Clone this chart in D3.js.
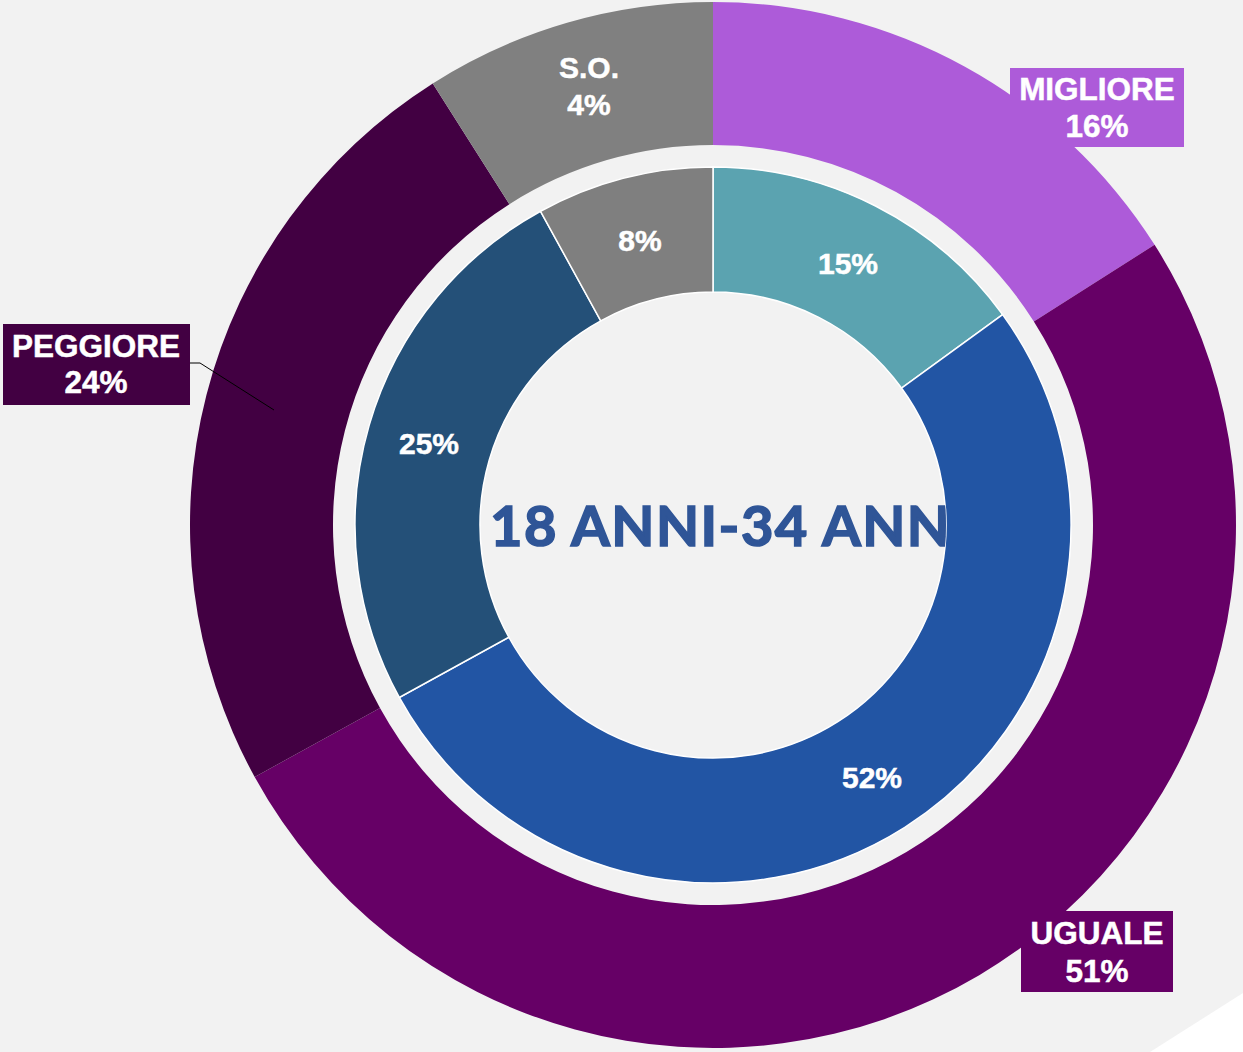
<!DOCTYPE html>
<html><head><meta charset="utf-8">
<script src="https://cdn.jsdelivr.net/npm/d3@7"></script>
<style>html,body{margin:0;padding:0;background:#F2F2F2;overflow:hidden}</style>
</head><body>
<svg id="chart" width="1243" height="1052"></svg>
<script>
// Outer ring (answers)
const outerCategories = ["MIGLIORE", "UGUALE", "PEGGIORE", "S.O."];
const outerValues = [16, 51, 24, 9];          // slice sizes
const outerLabels = ["16%", "51%", "24%", "4%"]; // printed labels
const outerColors = ["#AD5BD9", "#660066", "#420042", "#808080"];
// Inner ring (18-34 years)
const innerValues = [15, 52, 25, 8];
const innerLabels = ["15%", "52%", "25%", "8%"];
const innerColors = ["#5BA3B0", "#2255A4", "#245078", "#7F7F7F"];
const centerTitle = "18 ANNI-34 ANNI";

const svg = d3.select("#chart");
svg.append("rect").attr("width",1243).attr("height",1052).attr("fill","#F2F2F2");
svg.append("polygon").attr("points","1150,1052 1243,993 1243,1052").attr("fill","#FFFFFF");

const cx = 713, cy = 525;
const g = svg.append("g").attr("transform",`translate(${cx},${cy})`);
const pie = d3.pie().sort(null).value(d=>d);

const outerArc = d3.arc().innerRadius(380).outerRadius(523);
const innerArc = d3.arc().innerRadius(233).outerRadius(358);

g.selectAll("path.outer").data(pie(outerValues)).join("path")
  .attr("class","outer").attr("d",outerArc)
  .attr("fill",(d,i)=>outerColors[i]);

g.selectAll("path.inner").data(pie(innerValues)).join("path")
  .attr("class","inner").attr("d",innerArc)
  .attr("fill",(d,i)=>innerColors[i])
  .attr("stroke","#FFFFFF").attr("stroke-width",1.5);

// center title clipped to hole
svg.append("clipPath").attr("id","hole").append("circle").attr("cx",cx).attr("cy",cy).attr("r",233);
svg.append("text").attr("clip-path","url(#hole)")
  .attr("x",490).attr("y",546)
  .attr("font-family","Lato, 'Open Sans', sans-serif").attr("font-weight","bold")
  .attr("font-size",56).attr("fill","#2F5597")
  .attr("stroke","#2F5597").attr("stroke-width",1.6)
  .attr("textLength",478).attr("lengthAdjust","spacing")
  .text(centerTitle);

// inner labels
const innerPos = [[848,274],[872,788],[429,454],[640,251]];
svg.selectAll("text.inl").data(innerLabels).join("text")
  .attr("class","inl")
  .attr("x",(d,i)=>innerPos[i][0]).attr("y",(d,i)=>innerPos[i][1])
  .attr("text-anchor","middle")
  .attr("font-family","'Liberation Sans', Arial, sans-serif").attr("font-weight","bold")
  .attr("font-size",30).attr("fill","#FFFFFF")
  .attr("stroke","#FFFFFF").attr("stroke-width",0.5)
  .text(d=>d);

// leader line for PEGGIORE
svg.append("polyline").attr("points","190,363 200,363 274,410")
  .attr("fill","none").attr("stroke","#000").attr("stroke-width",1);

// outer labels with boxes
const boxes = [
  {x:1010,y:68,w:174,h:79,cx:1097,b1:100,b2:137,box:true},
  {x:1021,y:911,w:152,h:81,cx:1097,b1:944,b2:982,box:true},
  {x:3,y:324,w:187,h:81,cx:96,b1:357,b2:393,box:true},
  {x:0,y:0,w:0,h:0,cx:589,b1:78,b2:115,box:false}
];
boxes.forEach((b,i)=>{
  if (b.box) svg.append("rect").attr("x",b.x).attr("y",b.y).attr("width",b.w).attr("height",b.h).attr("fill",outerColors[i]);
  const t = svg.append("text").attr("text-anchor","middle")
    .attr("font-family","'Liberation Sans', Arial, sans-serif").attr("font-weight","bold")
    .attr("font-size",b.box?31.5:30).attr("fill","#FFFFFF")
    .attr("stroke","#FFFFFF").attr("stroke-width",0.5);
  t.append("tspan").attr("x",b.cx).attr("y",b.b1).text(outerCategories[i]);
  t.append("tspan").attr("x",b.cx).attr("y",b.b2).text(outerLabels[i]);
});
</script>
</body></html>
